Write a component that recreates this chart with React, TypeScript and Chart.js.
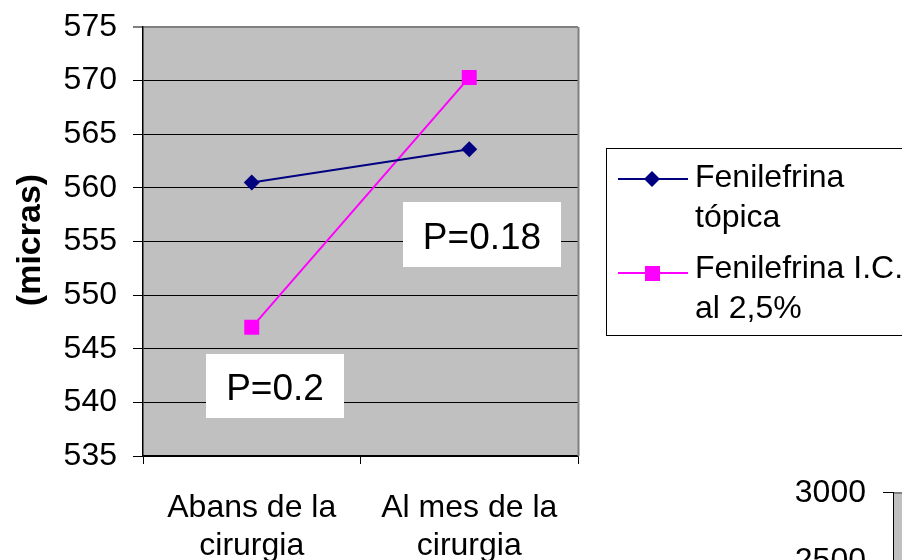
import React, { useEffect, useRef } from "react";
import { Chart, registerables } from "chart.js";

Chart.register(...registerables);

const categories: string[][] = [
  ["Abans de la", "cirurgia"],
  ["Al mes de la", "cirurgia"],
];
const seriesNames: string[][] = [
  ["Fenilefrina", "tópica"],
  ["Fenilefrina I.C.", "al 2,5%"],
];
const topica: number[] = [560.5, 563.6];
const intracameral: number[] = [547.0, 570.3];
const yMin = 535;
const yMax = 575;
const yStep = 5;
const yTitle = "(micras)";
const pLabels: string[] = ["P=0.2", "P=0.18"];
const secondChartTicks: string[] = ["3000", "2500"];

const FONT = '"Liberation Sans", Arial, Helvetica, sans-serif';
const NAVY = "#000080";
const MAGENTA = "#FF00FF";

export default function App() {
  const ref = useRef<HTMLCanvasElement | null>(null);

  useEffect(() => {
    const canvas = ref.current;
    if (!canvas) return;

    const decor = {
      id: "decor",
      beforeDraw(chart: any) {
        const { ctx, chartArea: a } = chart;
        ctx.save();
        ctx.fillStyle = "#C0C0C0";
        ctx.fillRect(a.left, a.top, a.right - a.left, a.bottom - a.top);
        ctx.restore();
      },
      afterDraw(chart: any) {
        const { ctx, chartArea: a } = chart;
        ctx.save();
        // right border of plot area
        ctx.strokeStyle = "#808080";
        ctx.lineWidth = 2;
        ctx.beginPath();
        ctx.moveTo(a.right + 0.5, a.top);
        ctx.lineTo(a.right + 0.5, a.bottom);
        ctx.stroke();

        // Y title
        ctx.fillStyle = "#000";
        ctx.font = `bold 34px ${FONT}`;
        ctx.textAlign = "center";
        ctx.textBaseline = "middle";
        ctx.translate(31, 240);
        ctx.rotate(-Math.PI / 2);
        ctx.fillText(yTitle, 0, 0);
        ctx.setTransform(1, 0, 0, 1, 0, 0);

        // P annotation boxes
        const boxes = [
          { x: 206, y: 354, w: 138, h: 64, tx: 275, ty: 400, t: pLabels[0] },
          { x: 403, y: 202, w: 158, h: 65, tx: 482, ty: 249, t: pLabels[1] },
        ];
        ctx.font = `37px ${FONT}`;
        ctx.textAlign = "center";
        ctx.textBaseline = "alphabetic";
        boxes.forEach((b) => {
          ctx.fillStyle = "#FFFFFF";
          ctx.fillRect(b.x, b.y, b.w, b.h);
          ctx.fillStyle = "#000";
          ctx.fillText(b.t, b.tx, b.ty);
        });

        // Legend
        ctx.fillStyle = "#FFFFFF";
        ctx.fillRect(606, 148, 320, 187);
        ctx.strokeStyle = "#000";
        ctx.lineWidth = 1;
        ctx.strokeRect(606.5, 148.5, 320, 187);
        const items = [
          { color: NAVY, y: 179, base: [187, 227], style: "rectRot" },
          { color: MAGENTA, y: 273, base: [278, 318], style: "rect" },
        ];
        items.forEach((it, i) => {
          ctx.strokeStyle = it.color;
          ctx.lineWidth = 2;
          ctx.beginPath();
          ctx.moveTo(618, it.y);
          ctx.lineTo(688, it.y);
          ctx.stroke();
          ctx.fillStyle = it.color;
          if (it.style === "rectRot") {
            ctx.beginPath();
            ctx.moveTo(652, it.y - 8);
            ctx.lineTo(660, it.y);
            ctx.lineTo(652, it.y + 8);
            ctx.lineTo(644, it.y);
            ctx.closePath();
            ctx.fill();
          } else {
            ctx.fillRect(645, it.y - 7, 15, 15);
          }
          ctx.fillStyle = "#000";
          ctx.font = `32px ${FONT}`;
          ctx.textAlign = "left";
          ctx.textBaseline = "alphabetic";
          seriesNames[i].forEach((line, j) => {
            ctx.fillText(line, 695, it.base[j]);
          });
        });

        // Fragment of a second chart (bottom right)
        ctx.fillStyle = "#C0C0C0";
        ctx.fillRect(894, 492, 10, 80);
        ctx.strokeStyle = "#808080";
        ctx.lineWidth = 2;
        ctx.beginPath();
        ctx.moveTo(894, 493);
        ctx.lineTo(904, 493);
        ctx.stroke();
        ctx.strokeStyle = "#000";
        ctx.lineWidth = 1;
        ctx.beginPath();
        ctx.moveTo(883, 492.5);
        ctx.lineTo(893, 492.5);
        ctx.moveTo(893.5, 492);
        ctx.lineTo(893.5, 560);
        ctx.stroke();
        ctx.fillStyle = "#000";
        ctx.font = `32px ${FONT}`;
        ctx.textAlign = "right";
        ctx.textBaseline = "alphabetic";
        ctx.fillText(secondChartTicks[0], 866, 502);
        ctx.fillText(secondChartTicks[1], 866, 570);
        ctx.restore();
      },
    };

    const chart = new Chart(canvas, {
      type: "line",
      data: {
        labels: categories,
        datasets: [
          {
            label: seriesNames[0].join(" "),
            data: topica,
            borderColor: NAVY,
            backgroundColor: NAVY,
            borderWidth: 2,
            pointStyle: "rectRot",
            pointRadius: 8,
            pointBorderWidth: 0,
          },
          {
            label: seriesNames[1].join(" "),
            data: intracameral,
            borderColor: MAGENTA,
            backgroundColor: MAGENTA,
            borderWidth: 2,
            pointStyle: "rect",
            pointRadius: 10.6,
            pointBorderWidth: 0,
          },
        ],
      },
      options: {
        responsive: false,
        animation: false,
        layout: { padding: { top: 27, right: 324, bottom: 0, left: 0 } },
        plugins: {
          legend: { display: false },
          tooltip: { enabled: false },
        },
        scales: {
          x: {
            offset: true,
            grid: {
              offset: true,
              drawOnChartArea: false,
              tickLength: 8,
              color: "#000",
            },
            border: { color: "#000", width: 1.5 },
            ticks: {
              color: "#000",
              font: { family: FONT, size: 32, lineHeight: 1.2 },
              padding: 25,
              maxRotation: 0,
              autoSkip: false,
            },
            afterFit(scale: any) {
              scale.height = 104;
              scale.paddingLeft = 0;
              scale.paddingRight = 0;
            },
          },
          y: {
            min: yMin,
            max: yMax,
            ticks: {
              stepSize: yStep,
              color: "#000",
              font: { family: FONT, size: 32 },
              padding: 16,
            },
            grid: {
              color: (c: any) => (c.tick && c.tick.value === yMax ? "#808080" : "#000"),
              lineWidth: (c: any) => (c.tick && c.tick.value === yMax ? 2 : 1),
              tickColor: "#000",
              tickWidth: 1,
              tickLength: 10,
            },
            border: { color: "#000", width: 1.5 },
            afterFit(scale: any) {
              scale.width = 143;
              scale.paddingTop = 0;
              scale.paddingBottom = 0;
            },
          },
        },
      },
      plugins: [decor],
    });

    return () => chart.destroy();
  }, []);

  return (
    <div style={{ position: "fixed", left: 0, top: 0, width: 902, height: 560, background: "#fff" }}>
      <canvas ref={ref} width={902} height={560} style={{ display: "block" }} />
    </div>
  );
}
